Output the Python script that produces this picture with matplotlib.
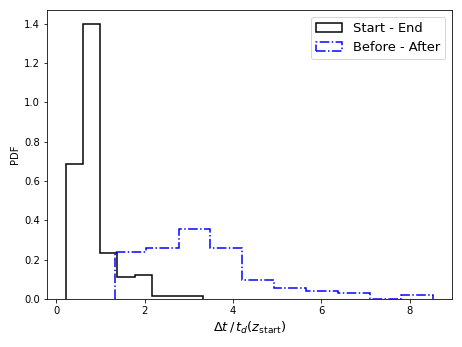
import numpy as np
import matplotlib
matplotlib.use("Agg")
import matplotlib.pyplot as plt
from matplotlib.patches import Patch

# Start - End histogram (bin edges and PDF values)
se_edges = [0.21, 0.60, 0.99, 1.38, 1.77, 2.16, 2.55, 2.94, 3.33]
se_pdf = [0.685, 1.40, 0.235, 0.110, 0.125, 0.014, 0.014, 0.014]

# Before - After histogram
ba_edges = [1.32, 2.04, 2.77, 3.49, 4.21, 4.93, 5.65, 6.37, 7.10, 7.81, 8.54]
ba_pdf = [0.242, 0.262, 0.356, 0.262, 0.097, 0.056, 0.042, 0.029, 0.0, 0.022]

fig = plt.figure(figsize=(6.43, 4.82), dpi=72)
ax = fig.add_axes([0.102, 0.138, 0.874, 0.833])

ax.stairs(se_pdf, se_edges, color="black", lw=1.5)
ax.stairs(ba_pdf, ba_edges, color="blue", lw=1.5, linestyle="-.")

ax.set_xlabel(r"$\Delta t\, /\, t_d(z_{\rm start})$", fontsize=13)
ax.set_ylabel("PDF")

handles = [Patch(facecolor="none", edgecolor="black", lw=1.5, label="Start - End"),
           Patch(facecolor="none", edgecolor="blue", lw=1.5, linestyle="-.", label="Before - After")]
ax.legend(handles=handles, fontsize=13)

fig.savefig("out.png", dpi=72)
